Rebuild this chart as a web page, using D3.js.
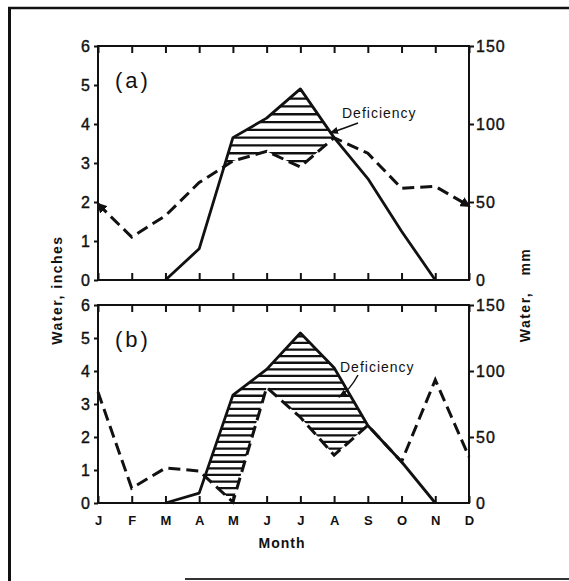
<!DOCTYPE html>
<html>
<head>
<meta charset="utf-8">
<script src="https://cdn.jsdelivr.net/npm/d3@7/dist/d3.min.js"></script>
<style>
  body { margin: 0; background: #fff; }
  text { font-family: "Liberation Sans", Arial, sans-serif; fill: #111; }
</style>
</head>
<body>
<svg width="569" height="581"></svg>
<script>
// month labels along the bottom axis
var months = ['J', 'F', 'M', 'A', 'M', 'J', 'J', 'A', 'S', 'O', 'N', 'D'];
var inchTicks = [0, 1, 2, 3, 4, 5, 6];
var mmTicks = [0, 50, 100, 150];

// panel (a): solid = potential use, dashed = supply (inches)
var aSolid = [null, null, 0, 0.8, 3.65, 4.15, 4.9, 3.65, 2.6, 1.25, 0, null];
var aDashed = [1.95, 1.1, 1.65, 2.5, 3.05, 3.3, 2.9, 3.65, 3.25, 2.35, 2.4, 1.9];

// panel (b)
var bSolid = [null, null, 0, 0.3, 3.27, 4.05, 5.15, 4.1, 2.35, 1.25, 0, null];
var bDashed = [3.36, 0.45, 1.06, 0.97, 0.03, 3.5, 2.6, 1.45, 2.35, 1.25, 3.73, 1.4];

var svg = d3.select('svg');
var ink = '#111';

var x = d3.scaleLinear().domain([0, 11]).range([98, 469]);

var mdefs = svg.append('defs');
mdefs.append('marker').attr('id', 'arrow').attr('viewBox', '0 0 10 10')
  .attr('refX', 9).attr('refY', 5).attr('markerWidth', 6).attr('markerHeight', 6)
  .attr('orient', 'auto').append('path').attr('d', 'M0,1 L10,5 L0,9 z').attr('fill', ink);
mdefs.append('marker').attr('id', 'endTri').attr('viewBox', '0 0 10 10')
  .attr('refX', 8).attr('refY', 5).attr('markerWidth', 3.5).attr('markerHeight', 3.5)
  .attr('orient', 'auto-start-reverse').append('path').attr('d', 'M0,0 L10,5 L0,10 z').attr('fill', ink);

// outer frame (top, left, part of bottom)
svg.append('line').attr('x1', 8).attr('y1', 8).attr('x2', 569).attr('y2', 8)
  .attr('stroke', ink).attr('stroke-width', 2.5);
svg.append('line').attr('x1', 9.5).attr('y1', 7).attr('x2', 9.5).attr('y2', 581)
  .attr('stroke', ink).attr('stroke-width', 3);
svg.append('line').attr('x1', 185).attr('y1', 579).attr('x2', 569).attr('y2', 579)
  .attr('stroke', '#333').attr('stroke-width', 2);

var drawPanel = function(id, top, bottom, solid, dashed, tag, defX, defY, arrowD, showMonths){
  var y = d3.scaleLinear().domain([0, 6]).range([bottom, top]);
  var ymm = d3.scaleLinear().domain([0, 150]).range([bottom, top]);
  var g = svg.append('g');
  var idx = d3.range(12);

  // hatching: below the solid line and above the dashed line
  var defs = svg.append('defs');
  defs.append('clipPath').attr('id', 'under' + id).append('path')
    .attr('d', d3.area().defined(function(i){ return solid[i] != null; })
      .x(function(i){ return x(i); }).y0(bottom).y1(function(i){ return y(solid[i]); })(idx));
  defs.append('clipPath').attr('id', 'over' + id).append('path')
    .attr('d', d3.area().x(function(i){ return x(i); }).y0(top)
      .y1(function(i){ return y(dashed[i]); })(idx));

  var hatch = g.append('g').attr('clip-path', 'url(#under' + id + ')')
    .append('g').attr('clip-path', 'url(#over' + id + ')');
  hatch.selectAll('line').data(d3.range(0.05, 6, 0.2)).enter().append('line')
    .attr('x1', x(0)).attr('x2', x(11))
    .attr('y1', function(d){ return y(d); }).attr('y2', function(d){ return y(d); })
    .attr('stroke', ink).attr('stroke-width', 2.3);

  // box
  g.append('rect').attr('x', x(0)).attr('y', top)
    .attr('width', x(11) - x(0)).attr('height', bottom - top)
    .attr('fill', 'none').attr('stroke', ink).attr('stroke-width', 2);

  // inward month ticks top and bottom
  var topAxis = g.append('g').attr('transform', 'translate(0,' + top + ')')
    .call(d3.axisTop(x).tickValues(idx).tickSize(-7).tickFormat(''));
  var botAxis = g.append('g').attr('transform', 'translate(0,' + bottom + ')')
    .call(d3.axisBottom(x).tickValues(idx).tickSize(-7).tickPadding(14)
      .tickFormat(function(i){ return showMonths ? months[i] : ''; }));
  [topAxis, botAxis].forEach(function(a){
    a.select('.domain').remove();
    a.selectAll('line').attr('stroke', ink).attr('stroke-width', 2);
  });
  botAxis.selectAll('text').attr('font-size', 13).attr('font-weight', 'bold')
    .attr('fill', ink).attr('dy', '0.6em');

  // inches on the left
  var left = g.append('g').attr('transform', 'translate(' + x(0) + ',0)')
    .call(d3.axisLeft(y).tickValues(inchTicks).tickSize(4).tickPadding(3).tickFormat(d3.format('d')));
  // mm on the right
  var right = g.append('g').attr('transform', 'translate(' + x(11) + ',0)')
    .call(d3.axisRight(ymm).tickValues(mmTicks).tickSize(5).tickPadding(2).tickFormat(d3.format('d')));
  [left, right].forEach(function(a){
    a.select('.domain').remove();
    a.selectAll('line').attr('stroke', ink).attr('stroke-width', 2);
    a.selectAll('text').attr('font-size', 16).attr('letter-spacing', 1).attr('fill', ink)
      .attr('stroke', ink).attr('stroke-width', 0.4);
  });
  right.selectAll('.tick').filter(function(d){ return d === 0; }).select('line').remove();

  // lines
  g.append('path')
    .attr('d', d3.line().defined(function(i){ return solid[i] != null; })
      .x(function(i){ return x(i); }).y(function(i){ return y(solid[i]); })(idx))
    .attr('fill', 'none').attr('stroke', ink).attr('stroke-width', 2.8)
    .attr('stroke-linejoin', 'round');
  var dash = g.append('path')
    .attr('d', d3.line().x(function(i){ return x(i); }).y(function(i){ return y(dashed[i]); })(idx))
    .attr('fill', 'none').attr('stroke', ink).attr('stroke-width', 3)
    .attr('stroke-dasharray', '12,6');
  if (id === 'a') dash.attr('marker-end', 'url(#endTri)').attr('marker-start', 'url(#endTri)');

  // panel tag
  g.append('text').attr('x', x(0) + 17).attr('y', top + 42)
    .attr('font-size', 22).attr('letter-spacing', 3).text(tag);

  // Deficiency label with arrow
  g.append('text').attr('x', defX).attr('y', defY)
    .attr('font-size', 14).attr('letter-spacing', 1).text('Deficiency');
  g.append('path').attr('d', arrowD).attr('fill', 'none')
    .attr('stroke', ink).attr('stroke-width', 1.5).attr('marker-end', 'url(#arrow)');
};

drawPanel('a', 46, 280, aSolid, aDashed, '(a)', 342, 118,
  'M358,123 Q345,128 330,133', false);
drawPanel('b', 305, 503, bSolid, bDashed, '(b)', 340, 372,
  'M358,375 Q350,390 339,397', true);

// axis titles
svg.append('text').attr('transform', 'translate(62,290) rotate(-90)')
  .attr('text-anchor', 'middle').attr('font-size', 14).attr('font-weight', 'bold')
  .attr('letter-spacing', 1.5).text('Water, inches');
svg.append('text').attr('transform', 'translate(530,295) rotate(-90)')
  .attr('text-anchor', 'middle').attr('font-size', 14).attr('font-weight', 'bold')
  .attr('letter-spacing', 1.5).style('white-space', 'pre').text('Water,   mm');
svg.append('text').attr('x', 282).attr('y', 548)
  .attr('text-anchor', 'middle').attr('font-size', 14).attr('font-weight', 'bold')
  .attr('letter-spacing', 1).text('Month');
</script>
</body>
</html>
